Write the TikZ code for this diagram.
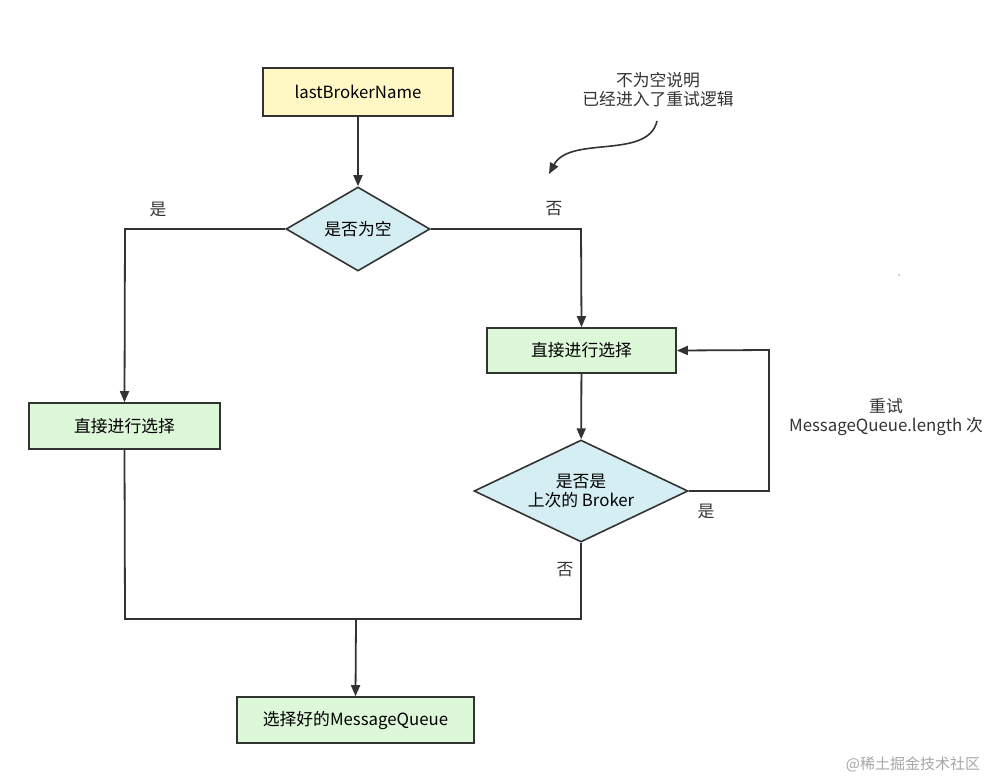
\documentclass[tikz,border=0pt]{standalone}
\usepackage{fontspec}
\setmainfont{Noto Sans CJK SC}
\usetikzlibrary{shapes.geometric,arrows.meta}
\definecolor{ln}{HTML}{333333}
\definecolor{yel}{HTML}{FFF8C4}
\definecolor{grn}{HTML}{DDF7D9}
\definecolor{blu}{HTML}{D5EEF3}
\begin{document}
\begin{tikzpicture}[x=1pt,y=-1pt,
  font=\fontsize{16.8}{20}\selectfont,
  box/.style={draw=ln,line width=1.6pt,minimum height=46pt,inner sep=0pt},
  dia/.style={draw=ln,line width=1.6pt,diamond,fill=blu,inner sep=0pt,align=center},
  ar/.style={draw=ln,line width=1.8pt,-{Triangle[length=11pt,width=9pt]}},
  li/.style={draw=ln,line width=1.8pt},
  lab/.style={text=ln}]
\useasboundingbox (0,0) rectangle (998,780);
\node[box,fill=yel,minimum width=190pt,minimum height=48pt] (a) at (358,92) {lastBrokerName};
\node[dia,shape aspect=1.7,minimum width=144pt,minimum height=84pt] (d1) at (358,229) {是否为空};
\node[box,fill=grn,minimum width=189pt,minimum height=45pt] (r) at (581.5,350.5) {直接进行选择};
\node[box,fill=grn,minimum width=191pt] (l) at (124.5,426) {直接进行选择};
\node[dia,shape aspect=2.1,minimum width=214pt,minimum height=102pt] (d2) at (581,491) {是否是\\[-1pt]上次的 Broker};
\node[box,fill=grn,minimum width=237pt] (b) at (355.5,720) {选择好的MessageQueue};
\coordinate (p1) at (125,229);
\coordinate (p2) at (581,229);
\coordinate (p3) at (769,491);
\coordinate (p4) at (769,350);
\coordinate (p5) at (125,619);
\coordinate (p6) at (581,619);
\coordinate (m) at (356,619);
\draw[ar] (a) -- (d1);
\draw[ar] (d1.west) -- (p1) -- (l.north);
\draw[ar] (d1.east) -- (p2) -- (r.north);
\draw[ar] (r) -- (d2);
\draw[ar] (d2.east) -- (p3) -- (p4) -- (r.east);
\draw[li] (l.south) -- (p5) -- (p6) -- (d2.south);
\draw[ar] (m) -- (b.north);
\node[lab] (t1) at (158,209) {是};
\node[lab] (t2) at (554,209) {否};
\node[lab] (t3) at (706,511) {是};
\node[lab] (t4) at (565,570) {否};
\node[lab,align=center] (t5) at (886,417) {重试\\[-1pt]MessageQueue.length 次};
\node[lab,align=center] (t6) at (658,90) {不为空说明\\[-1pt]已经进入了重试逻辑};
\coordinate (c1) at (657,121);
\coordinate (c2) at (549,174);
\draw[ar,line width=1.6pt] (c1) .. controls (648,160) and (570,135) .. (c2);
\node[circle,fill=ln,inner sep=0.5pt] (dot) at (899,275) {};
\node[text=gray!70,font=\fontsize{15}{17}\selectfont] (w) at (913,764) {@稀土掘金技术社区};
\end{tikzpicture}
\end{document}
